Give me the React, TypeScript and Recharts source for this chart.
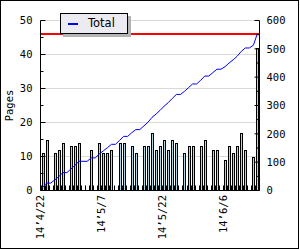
import {
  Bar,
  CartesianGrid,
  ComposedChart,
  Legend,
  Line,
  ReferenceLine,
  XAxis,
  YAxis,
} from "recharts";

const DATES = [
  "14’4/22", "14’4/23", "14’4/24", "14’4/25", "14’4/26", "14’4/27", "14’4/28", "14’4/29", "14’4/30",
  "14’5/1", "14’5/2", "14’5/3", "14’5/4", "14’5/5", "14’5/6", "14’5/7", "14’5/8", "14’5/9", "14’5/10",
  "14’5/11", "14’5/12", "14’5/13", "14’5/14", "14’5/15", "14’5/16", "14’5/17", "14’5/18", "14’5/19",
  "14’5/20", "14’5/21", "14’5/22", "14’5/23", "14’5/24", "14’5/25", "14’5/26", "14’5/27", "14’5/28",
  "14’5/29", "14’5/30", "14’5/31", "14’6/1", "14’6/2", "14’6/3", "14’6/4", "14’6/5", "14’6/6",
  "14’6/7", "14’6/8", "14’6/9", "14’6/10", "14’6/11", "14’6/12", "14’6/13", "14’6/14",
];

// pages read per day
const PAGES = [
  11, 15, 0, 11, 12, 14, 0, 13, 13, 14, 0, 0, 12, 0, 14, 11, 11, 12, 0, 14, 14, 0, 13, 11, 0, 13, 13,
  17, 12, 13, 15, 12, 15, 14, 0, 11, 13, 13, 0, 13, 15, 0, 12, 12, 0, 9, 13, 11, 13, 17, 12, 0, 10, 42,
];

const DATE_LABELS = ["14’4/22", "14’5/7", "14’5/22", "14’6/6"];
const PAGE_TICKS = [0, 5, 10, 15, 20, 25, 30, 35, 40, 45, 50];
const TOTAL_TICKS = [0, 50, 100, 150, 200, 250, 300, 350, 400, 450, 500, 550, 600];
const BOOK_PAGES = 552;

const data = DATES.map((date, i) => ({
  date,
  pages: PAGES[i],
  total: PAGES.slice(0, i + 1).reduce((sum, p) => sum + p, 0),
}));

const FONT = "'DejaVu Sans Mono', monospace";

function LeftTick({ x, y, payload }: any) {
  const major = payload.value % 10 === 0;
  return (
    <g>
      <line x1={x} x2={x + (major ? 5 : 3)} y1={y} y2={y} stroke="#000" />
      {major && (
        <text x={x - 8} y={y} dy="0.35em" textAnchor="end" fontSize={10.5} fontFamily={FONT} fill="#000">
          {payload.value}
        </text>
      )}
    </g>
  );
}

function RightTick({ x, y, payload }: any) {
  const major = payload.value % 100 === 0;
  return (
    <g>
      <line x1={x} x2={x - (major ? 5 : 3)} y1={y} y2={y} stroke="#000" />
      {major && (
        <text x={x + 7} y={y} dy="0.35em" textAnchor="start" fontSize={10.5} fontFamily={FONT} fill="#000">
          {payload.value}
        </text>
      )}
    </g>
  );
}

function DateTick({ x, y, payload }: any) {
  const edge = Math.round(payload.coordinate - (payload.offset ?? 0)) + 0.5;
  const show = DATE_LABELS.includes(payload.value);
  return (
    <g>
      <line x1={edge} x2={edge} y1={y} y2={y - 5} stroke="#000" />
      {show && (
        <text
          x={x - 2}
          y={y + 4.5}
          dy="0.35em"
          textAnchor="end"
          transform={`rotate(-90, ${x - 2}, ${y + 4.5})`}
          fontSize={10.5}
          fontFamily={FONT}
          fill="#000"
        >
          {payload.value}
        </text>
      )}
    </g>
  );
}

function PageBar({ x, y, width, height }: any) {
  if (!height || height <= 0) return <g />;
  const left = Math.round(x + width / 2 - 1.5) + 0.5;
  const top = Math.round(y) + 0.5;
  const bottom = y + height;
  return <rect x={left} y={top} width={2} height={bottom - top} fill="#add8e6" stroke="#000" strokeWidth={1} />;
}

function GridLine(props: any) {
  const { x1, x2, y1, y2, index } = props;
  if (index % 2 !== 0) return <g key={props.key} />;
  return <line key={props.key} x1={x1} x2={x2} y1={y1} y2={y2} stroke="#d9d9d9" strokeWidth={1} />;
}

function TotalLegend() {
  return (
    <div
      style={{
        width: 68,
        height: 21,
        boxSizing: "border-box",
        border: "1px solid #000",
        background: "#edebf2",
        boxShadow: "3px 3px 0 #b4b4b4",
        position: "relative",
        fontFamily: "'DejaVu Sans', sans-serif",
        fontSize: 11.5,
      }}
    >
      <div style={{ position: "absolute", left: 7, top: 9, width: 10, height: 2, background: "#0000ff" }} />
      <div style={{ position: "absolute", left: 27, top: 2, lineHeight: "15px", color: "#000" }}>Total</div>
    </div>
  );
}

export default function App() {
  return (
    <div style={{ position: "absolute", left: 0, top: 0, width: 300, height: 250, background: "#fff" }}>
      <ComposedChart
        width={300}
        height={250}
        data={data}
        margin={{ top: 20.5, right: 0, left: 0, bottom: 0 }}
      >
        <CartesianGrid yAxisId="left" vertical={false} horizontal={GridLine} />
        <XAxis
          dataKey="date"
          interval={0}
          height={59.5}
          tickSize={0}
          tickMargin={0}
          tickLine={false}
          axisLine={{ stroke: "#000" }}
          tick={DateTick}
        />
        <YAxis
          yAxisId="left"
          orientation="left"
          width={40.5}
          domain={[0, 50]}
          ticks={PAGE_TICKS}
          interval={0}
          tickSize={0}
          tickMargin={0}
          tickLine={false}
          axisLine={{ stroke: "#000" }}
          tick={LeftTick}
          label={{
            content: ({ viewBox }: any) => (
              <text
                x={viewBox.x + 9}
                y={viewBox.y + viewBox.height / 2}
                dy="0.35em"
                textAnchor="middle"
                transform={`rotate(-90, ${viewBox.x + 9}, ${viewBox.y + viewBox.height / 2})`}
                fontSize={10.5}
                fontFamily={FONT}
                fill="#000"
              >
                Pages
              </text>
            ),
          }}
        />
        <YAxis
          yAxisId="right"
          orientation="right"
          width={40.5}
          domain={[0, 600]}
          ticks={TOTAL_TICKS}
          interval={0}
          tickSize={0}
          tickMargin={0}
          tickLine={false}
          axisLine={{ stroke: "#000" }}
          tick={RightTick}
        />
        <Bar yAxisId="left" dataKey="pages" barSize={3} shape={PageBar} isAnimationActive={false} legendType="none" />
        <Line
          yAxisId="right"
          type="linear"
          dataKey="total"
          stroke="#0000ff"
          strokeWidth={1}
          dot={false}
          activeDot={false}
          isAnimationActive={false}
        />
        <ReferenceLine yAxisId="right" y={BOOK_PAGES} stroke="#ff0000" strokeWidth={2} />
        <Legend
          layout="horizontal"
          verticalAlign="middle"
          align="center"
          wrapperStyle={{ left: 60, top: 13, width: "auto" }}
          content={() => <TotalLegend />}
        />
      </ComposedChart>
      <div
        style={{
          position: "absolute",
          left: 0,
          top: 0,
          width: 299,
          height: 249,
          boxSizing: "border-box",
          border: "1px solid #000",
          pointerEvents: "none",
        }}
      />
    </div>
  );
}
